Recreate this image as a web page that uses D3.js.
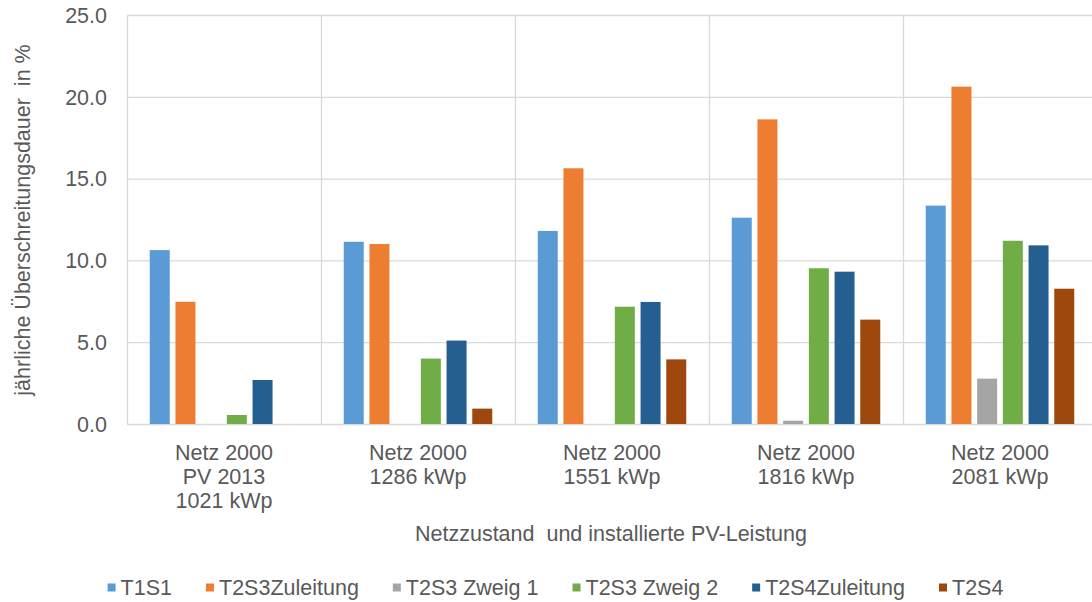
<!DOCTYPE html>
<html>
<head>
<meta charset="utf-8">
<script src="https://cdn.jsdelivr.net/npm/d3@7/dist/d3.min.js"></script>
<style>
  html, body { margin: 0; padding: 0; background: #ffffff; }
  svg { display: block; font-family: "Liberation Sans", Arial, sans-serif; }
</style>
</head>
<body>
<svg id="chart" width="1092" height="602"></svg>
<script>
// ---- data ----
const categories = [
  ["Netz 2000", "PV 2013", "1021 kWp"],
  ["Netz 2000", "1286 kWp"],
  ["Netz 2000", "1551 kWp"],
  ["Netz 2000", "1816 kWp"],
  ["Netz 2000", "2081 kWp"]
];
const seriesNames = ["T1S1", "T2S3Zuleitung", "T2S3 Zweig 1", "T2S3 Zweig 2", "T2S4Zuleitung", "T2S4"];
const seriesColors = ["#5B9BD5", "#ED7D31", "#A5A5A5", "#70AD47", "#255E91", "#9E480E"];
const T1S1          = [10.63, 11.14, 11.80, 12.61, 13.35];
const T2S3Zuleitung = [7.47, 11.00, 15.63, 18.62, 20.62];
const T2S3Zweig1    = [0, 0, 0, 0.20, 2.77];
const T2S3Zweig2    = [0.55, 4.00, 7.17, 9.52, 11.20];
const T2S4Zuleitung = [2.69, 5.10, 7.46, 9.31, 10.92];
const T2S4          = [0, 0.94, 3.95, 6.38, 8.27];
const seriesValues = [T1S1, T2S3Zuleitung, T2S3Zweig1, T2S3Zweig2, T2S4Zuleitung, T2S4];
const yTicks = [0, 5, 10, 15, 20, 25];
const yTitle = "jährliche Überschreitungsdauer  in %";
const xTitle = "Netzzustand  und installierte PV-Leistung";

// ---- layout ----
(function () {
const svg = d3.select("#chart");
const mLeft = 127, mRight = 1097, mTop = 15, mBottom = 424;
const fontSize = 21.5;
const textColor = "#595959";
const gridColor = "#d9d9d9";

const catIdx = categories.map((d, i) => i);
const x0 = d3.scaleBand().domain(catIdx).range([mLeft, mRight]).paddingInner(0).paddingOuter(0);
const x1 = d3.scaleBand().domain(seriesNames).range([0, x0.bandwidth()]).paddingInner(0.222).paddingOuter(0.885);
const y = d3.scaleLinear().domain([0, 25]).range([mBottom, mTop]);

// horizontal gridlines
svg.append("g").selectAll("line").data(yTicks).join("line")
  .attr("x1", mLeft).attr("x2", mRight)
  .attr("y1", d => y(d) + 0.5).attr("y2", d => y(d) + 0.5)
  .attr("stroke", gridColor).attr("stroke-width", 1.3);

// vertical gridlines at category boundaries
const bounds = catIdx.map(i => x0(i)).concat([x0(catIdx.length - 1) + x0.bandwidth()]);
svg.append("g").selectAll("line").data(bounds).join("line")
  .attr("x1", d => Math.round(d) + 0.5).attr("x2", d => Math.round(d) + 0.5)
  .attr("y1", y(25)).attr("y2", y(0))
  .attr("stroke", gridColor).attr("stroke-width", 1.3);

// bars
const barData = [];
seriesValues.forEach((vals, s) => vals.forEach((v, c) => barData.push({s, c, v})));
svg.append("g").selectAll("rect").data(barData.filter(d => d.v > 0)).join("rect")
  .attr("x", d => x0(d.c) + x1(seriesNames[d.s]))
  .attr("width", x1.bandwidth())
  .attr("y", d => y(d.v))
  .attr("height", d => y(0) - y(d.v))
  .attr("fill", d => seriesColors[d.s]);

// y tick labels
svg.append("g").selectAll("text").data(yTicks).join("text")
  .attr("x", 107).attr("y", d => y(d))
  .attr("dy", "0.36em")
  .attr("text-anchor", "end")
  .attr("font-size", fontSize)
  .attr("fill", textColor)
  .text(d => d3.format(".1f")(d));

// category labels
const catG = svg.append("g");
categories.forEach((lines, i) => {
  const t = catG.append("text")
    .attr("text-anchor", "middle")
    .attr("font-size", fontSize)
    .attr("fill", textColor);
  lines.forEach((ln, j) => {
    t.append("tspan")
      .attr("x", x0(i) + x0.bandwidth() / 2)
      .attr("y", 459.5 + j * 24)
      .text(ln);
  });
});

// axis titles
svg.append("text")
  .attr("x", (mLeft + mRight) / 2 - 1)
  .attr("y", 541)
  .attr("text-anchor", "middle")
  .attr("font-size", fontSize)
  .attr("fill", textColor)
  .style("white-space", "pre")
  .text(xTitle);

svg.append("text")
  .attr("transform", "translate(29.5,220) rotate(-90)")
  .attr("text-anchor", "middle")
  .attr("font-size", fontSize)
  .attr("fill", textColor)
  .style("white-space", "pre")
  .text(yTitle);

// legend
const legG = svg.append("g");
const items = seriesNames.map((name, i) => {
  const g = legG.append("g");
  g.append("rect").attr("x", 0).attr("y", -11.5).attr("width", 8).attr("height", 8)
    .attr("fill", seriesColors[i]);
  const t = g.append("text").attr("x", 13).attr("y", 0)
    .attr("font-size", fontSize).attr("fill", textColor).text(name);
  return {g, w: 13 + t.node().getComputedTextLength()};
});
const gap = 34;
const total = d3.sum(items, d => d.w) + gap * (items.length - 1);
let cx = 555.5 - total / 2;
items.forEach(it => {
  it.g.attr("transform", `translate(${cx},595)`);
  cx += it.w + gap;
});
})();
</script>
</body>
</html>
